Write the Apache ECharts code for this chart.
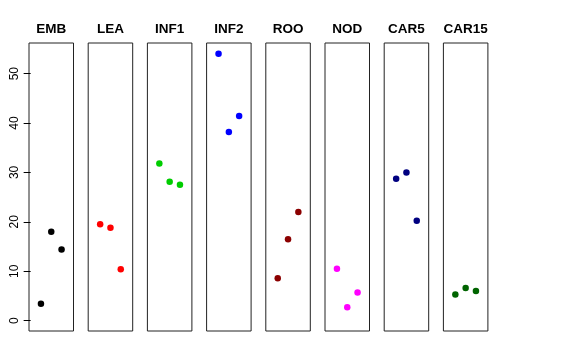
<!DOCTYPE html>
<html><head><meta charset="utf-8">
<script src="https://cdn.jsdelivr.net/npm/echarts@6/dist/echarts.min.js"></script>
<style>html,body{margin:0;padding:0;background:#fff}#c{width:576px;height:360px}</style>
</head><body><div id="c"></div>
<script>
var panels = ['EMB','LEA','INF1','INF2','ROO','NOD','CAR5','CAR15'];
var colors = ['#000000','#FF0000','#00CD00','#0000FF','#8B0000','#FF00FF','#000080','#006400'];
var xPos = [1, 2, 3];
var EMB = [3.4, 18.0, 14.4];
var LEA = [19.5, 18.8, 10.4];
var INF1 = [31.8, 28.1, 27.5];
var INF2 = [54.0, 38.2, 41.4];
var ROO = [8.6, 16.5, 22.0];
var NOD = [10.5, 2.7, 5.7];
var CAR5 = [28.7, 30.0, 20.2];
var CAR15 = [5.3, 6.6, 6.0];
var yTicks = [0, 10, 20, 30, 40, 50];
var seriesValues = [EMB, LEA, INF1, INF2, ROO, NOD, CAR5, CAR15];

(function(){
var yMin = -2.09, yMax = 56.2;
var grids = [], xAxes = [], yAxes = [], series = [];
var left0 = 29, step = 59.2, w = 44.5, gTop = 43, gH = 288;
panels.forEach(function(p, i){
  var L = left0 + step * i;
  grids.push({left: L, top: gTop, width: w, height: gH, show: true, borderColor: '#222', borderWidth: 1, backgroundColor: 'transparent'});
  xAxes.push({type: 'value', gridIndex: i, min: -0.16, max: 4.16, position: 'top',
    name: p, nameLocation: 'middle', nameGap: 13.5,
    nameTextStyle: {fontSize: 13.5, fontWeight: 'bold', color: '#000', fontFamily: 'Liberation Sans, Arial, sans-serif', verticalAlign: 'middle'},
    axisLine: {show: false}, axisTick: {show: false}, axisLabel: {show: false}, splitLine: {show: false}});
  yAxes.push({type: 'value', gridIndex: i, min: yMin, max: yMax,
    show: i === 0,
    splitLine: {show: false},
    axisLine: {show: false},
    axisTick: {show: i === 0, length: 7, lineStyle: {color: '#000'}, customValues: yTicks},
    axisLabel: {show: i === 0, rotate: 90, margin: 8, fontSize: 12, color: '#000', fontFamily: 'Liberation Sans, Arial, sans-serif', customValues: yTicks}
  });
  series.push({type: 'scatter', xAxisIndex: i, yAxisIndex: i, symbolSize: 6.5,
    itemStyle: {color: colors[i], opacity: 1},
    data: xPos.map(function(x, k){ return [x, seriesValues[i][k]]; })});
});

var chart = echarts.init(document.getElementById('c'), null, {renderer: 'canvas'});
chart.setOption({
  animation: false,
  backgroundColor: '#fff',
  grid: grids,
  xAxis: xAxes,
  yAxis: yAxes,
  series: series
});
})();
</script></body></html>
